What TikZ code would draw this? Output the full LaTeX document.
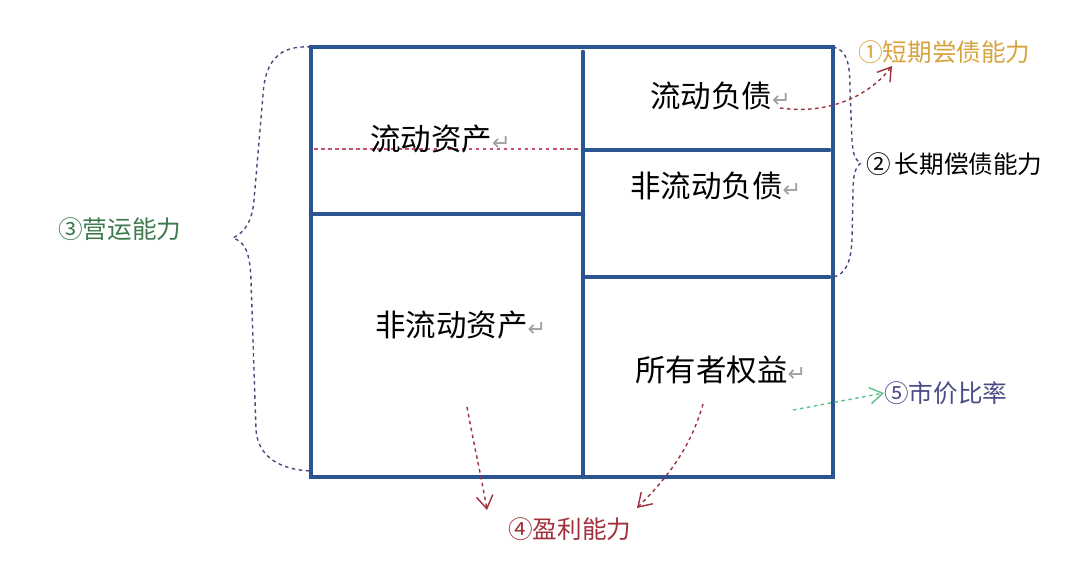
\documentclass[tikz,border=0pt]{standalone}
\usepackage{fontspec}
\setmainfont{Noto Sans CJK SC}
\newfontfamily\symfont{DejaVu Sans}
\usetikzlibrary{arrows.meta, positioning}

\definecolor{boxblue}{HTML}{2A5590}
\definecolor{bracecol}{HTML}{4A4A7E}
\definecolor{dred}{HTML}{A0303A}
\definecolor{pinkred}{HTML}{C8506A}
\definecolor{gold}{HTML}{D7A43E}
\definecolor{dgreen}{HTML}{3C7A4E}
\definecolor{slate}{HTML}{4C4C86}
\definecolor{mint}{HTML}{5CC08A}

\newcommand{\retmark}{{\symfont\fontsize{19}{22}\selectfont\color{gray!75}↵}}

\begin{document}
\begin{tikzpicture}[x=0.03cm,y=-0.03cm,
  part/.style={anchor=west,inner sep=0pt,font=\fontsize{26}{30}\selectfont},
  note/.style={anchor=west,inner sep=0pt,font=\fontsize{21}{25}\selectfont},
  frame/.style={draw=boxblue,line width=4pt,line cap=round},
  brace/.style={draw=bracecol,dashed,line width=1.2pt},
  fl/.style={-{Straight Barb[length=11pt,width=14pt]},dashed,line width=1.2pt}
]
  \useasboundingbox[fill=white] (0,0) rectangle (1080,564);

  % balance sheet frame
  \draw[frame] (311,47) rectangle (833,477);
  \draw[frame] (583,52) -- (583,477);
  \draw[frame] (311,214) -- (583,214);
  \draw[frame] (583,150) -- (829,150);
  \draw[frame] (583,277) -- (829,277);
  \draw[pinkred,dashed,line width=0.9pt] (314,149) -- (580,149);

  % items
  \node[part] (ca)  at (370,139) {流动资产\retmark};
  \node[part] (nca) at (375,325) {非流动资产\retmark};
  \node[part] (cl)  at (650,96)  {流动负债\retmark};
  \node[part] (ncl) at (630,186) {非流动负债\retmark};
  \node[part] (eq)  at (635,370) {所有者权益\retmark};

  % ratios
  \node[note,text=gold]   (shortdebt) at (858,52)  {①短期尝债能力};
  \node[note]             (longdebt)  at (866,164) {②\,长期偿债能力};
  \node[note,text=dgreen] (operate)   at (58,229)  {③营运能力};
  \node[note,text=dred]   (profit)    at (508,529) {④盈利能力};
  \node[note,text=slate]  (market)    at (884,393) {⑤市价比率};

  \coordinate (nca-out) at (467,407);
  \coordinate (eq-out)  at (703,404);
  \coordinate (eq-mkt)  at (793,410);
  \coordinate (cl-out)  at (780,108);

  % braces
  \draw[brace] (311,47) .. controls (278,45) and (265,62) .. (263,95)
    -- (254,200) .. controls (252,222) and (245,232) .. (233,238)
    .. controls (245,242) and (250,252) .. (251,280)
    -- (256,430) .. controls (258,458) and (282,470) .. (311,471);
  \draw[brace] (833,47) .. controls (846,50) and (850,60) .. (850,90)
    -- (852,140) .. controls (853,155) and (855,160) .. (861,163)
    .. controls (855,167) and (853,176) .. (853,192)
    -- (852,240) .. controls (851,263) and (845,274) .. (834,277);

  % arrows
  \draw[fl,dred] (cl-out) .. controls (830,115) and (870,95) .. (892,66);
  \draw[fl,dred] (nca-out) .. controls (475,450) and (482,480) .. (487,510);
  \draw[fl,dred] (eq-out) .. controls (690,450) and (665,480) .. (637,508);
  \draw[fl,mint] (eq-mkt) -- (market.west);
\end{tikzpicture}
\end{document}
